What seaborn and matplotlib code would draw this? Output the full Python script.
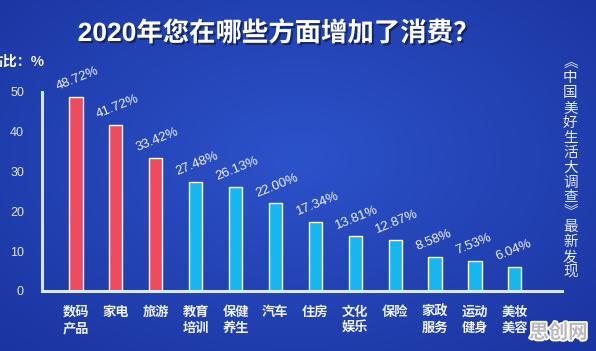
import numpy as np
import pandas as pd
import matplotlib
matplotlib.use('Agg')
import matplotlib.pyplot as plt
import matplotlib.patheffects as pe
import seaborn as sns

# datos
categorias = ['数码\n产品', '家电', '旅游', '教育\n培训', '保健\n养生', '汽车',
              '住房', '文化\n娱乐', '保险', '家政\n服务', '运动\n健身', '美妆\n美容']
valores = [48.72, 41.72, 33.42, 27.48, 26.13, 22.00,
           17.34, 13.81, 12.87, 8.58, 7.53, 6.04]
etiquetas = ['48.72%', '41.72%', '33.42%', '27.48%', '26.13%', '22.00%',
             '17.34%', '13.81%', '12.87%', '8.58%', '7.53%', '6.04%']
grupo = ['top'] * 3 + ['resto'] * 9
y_ticks = [0, 10, 20, 30, 40, 50]

titulo = '2020年您在哪些方面增加了消费？'
fuente_lateral = '︽中国美好生活大调查︾最新发现'

ROJO = '#f04a5e'
CIAN = '#16b6ef'
LINEA = '#d6e8fb'
TEXTO = '#eef3ff'
LATIN = ['Liberation Sans', 'Noto Sans CJK SC', 'DejaVu Sans']

sns.set_theme(style='white')
plt.rcParams['font.family'] = ['Noto Sans CJK SC', 'DejaVu Sans']

fig = plt.figure(figsize=(5.96, 3.51), dpi=100)

# fondo azul con degradado radial
bg = fig.add_axes([0, 0, 1, 1], zorder=-10)
yy, xx = np.mgrid[0:1:200j, 0:1:340j]
d = np.sqrt(((xx - 0.5) / 0.75) ** 2 + ((yy - 0.45) / 0.8) ** 2)
c0 = np.array([0x2c, 0x52, 0xca]) / 255
c1 = np.array([0x1a, 0x33, 0x9e]) / 255
t = np.clip(d, 0, 1)[..., None]
bg.imshow(c0 * (1 - t) + c1 * t, aspect='auto', extent=[0, 1, 0, 1])
bg.axis('off')

ax = fig.add_axes([0.0705, 0.171, 0.872, 0.567])
ax.patch.set_alpha(0)

df = pd.DataFrame({'cat': categorias, 'val': valores, 'grupo': grupo})
sns.barplot(data=df, x='cat', y='val', hue='grupo',
            palette={'top': ROJO, 'resto': CIAN}, width=0.33,
            dodge=False, legend=False, saturation=1, ax=ax)

for i, (v, lab) in enumerate(zip(valores, etiquetas)):
    ax.text(i - 0.42, v + 1.0, lab, rotation=22, rotation_mode='anchor',
            ha='left', va='bottom', color=TEXTO, fontsize=9.5,
            family=LATIN)

ax.set_xlim(-0.85, 12.175)
ax.set_ylim(0, 50)
ax.set_yticks(y_ticks)
ax.set_yticklabels([str(v) for v in y_ticks], color='#dfe7f7', fontsize=9,
                   family=LATIN)
ax.tick_params(axis='y', length=0, pad=13)
ax.tick_params(axis='x', length=0, pad=10)
ax.set_xticks(range(len(categorias)))
ax.set_xticklabels(categorias, color=TEXTO, fontsize=9.5, fontweight='bold',
                   linespacing=1.2, va='top')
ax.set_xlabel('')
ax.set_ylabel('')
for s in ['top', 'right']:
    ax.spines[s].set_visible(False)
for s in ['left', 'bottom']:
    ax.spines[s].set_color(LINEA)
    ax.spines[s].set_linewidth(2.2)
ax.grid(False)

sombra = [pe.withSimplePatchShadow(offset=(1.5, -1.5), shadow_rgbFace='#0a1a50', alpha=0.7)]
fig.text(0.467, 0.905, titulo, ha='center', va='center', color='white',
         fontsize=19, fontweight='bold', family=LATIN, path_effects=sombra)
fig.text(0.074, 0.823, '占比：%', ha='right', va='center', color='white',
         fontsize=10, fontweight='bold')

# texto vertical a la derecha
y0 = 0.82
for k, ch in enumerate(fuente_lateral):
    fig.text(0.957, y0 - k * 0.0425, ch, ha='center', va='center',
             color='#e6ecfa', fontsize=10.5)

fig.text(0.937, 0.052, '思创网', ha='center', va='center', color='#b9b9bd',
         fontsize=14, fontweight='bold',
         path_effects=[pe.withStroke(linewidth=2.5, foreground='white')])

fig.savefig('out.png', dpi=100)
